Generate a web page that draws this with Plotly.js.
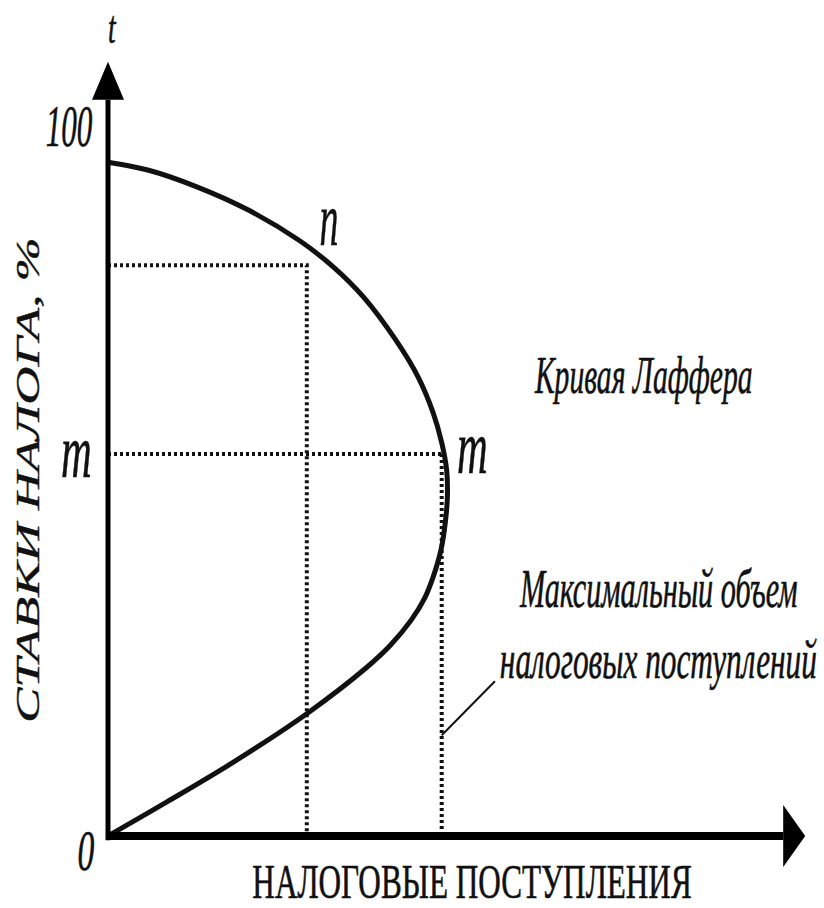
<!DOCTYPE html>
<html>
<head>
<meta charset="utf-8">
<script src="https://cdn.plot.ly/plotly-3.0.1.min.js"></script>
<style>
  html, body { margin: 0; padding: 0; background: #fff; }
  #chart { width: 824px; height: 908px; }
</style>
</head>
<body>
<div id="chart"></div>
<script>
// Laffer curve: tax revenue (x) against tax rate t, % (y)

// curve, from origin round the bulge back to the rate axis
const REVENUE = [0, 8.3, 17.5, 28.1, 36.5, 39.8, 42.7, 44.6, 45.8, 46.9, 47.5, 47.8,
                 47.7, 47.0, 45.8, 43.7, 40.5, 36.0, 31.8, 26.9, 19.7, 12.6, 5.6, 0];
const RATE    = [0, 4.8, 10.3, 17.3, 23.8, 26.9, 30.4, 33.5, 36.5, 40.3, 44.1, 47.7,
                 51.5, 55.4, 59.6, 64.6, 69.9, 75.9, 80.1, 83.9, 88.2, 91.4, 93.8, 94.9];

// point m (maximum revenue) and point n
const M_REV = 47.0, M_RATE = 53.8;
const N_REV = 28.0, N_RATE = 80.4;

// leader from the m drop line to the caption
const LEADER_X = [47.0, 54.5];
const LEADER_Y = [14.2, 21.8];

// axis ends (where the arrowheads sit)
const X_END = 95.1;
const Y_END = 103.7;

// page geometry: origin pixel and scale
const PX = 7.1, OX = 108, OY = 836, W = 824, H = 908;

const FONT = '"Liberation Serif", "Times New Roman", serif';
const squeeze = [];

function label(text, x, y, size, sq, extra) {
  squeeze.push(sq);
  return Object.assign({
    text: text, x: x, y: y, xref: 'x', yref: 'y',
    showarrow: false, xanchor: 'center', yanchor: 'middle',
    font: {family: FONT, size: size, color: '#111', style: 'italic'}
  }, extra || {});
}

const solid = (x, y, w) => ({
  x: x, y: y, mode: 'lines', type: 'scatter', hoverinfo: 'skip', showlegend: false,
  line: {color: '#111', width: w}
});
const dotted = (x, y) => ({
  x: x, y: y, mode: 'lines', type: 'scatter', hoverinfo: 'skip', showlegend: false,
  line: {color: '#111', width: 4, dash: '3px,3px'}
});

const traces = [
  dotted([0, N_REV, N_REV], [N_RATE, N_RATE, 0]),
  dotted([0, M_REV], [M_RATE, M_RATE]),
  dotted([M_REV, M_REV], [M_RATE, 0]),
  solid(LEADER_X, LEADER_Y, 2),
  Object.assign(solid(REVENUE, RATE, 5), {line: {color: '#111', width: 5, shape: 'spline', smoothing: 1}})
];

const annotations = [
  label('t', 0.6, 113.9, 46, 0.6),
  label('100', -5.5, 100, 60, 0.52),
  label('0', -3.1, -2.1, 56, 0.6),
  label('m', -4.5, M_RATE + 0.4, 76, 0.56),
  label('m', 51.3, M_RATE + 1.0, 76, 0.56),
  label('n', 31.1, 86.9, 76, 0.5),
  label('Кривая Лаффера', 75.4, 64.9, 52, 0.57),
  label('Максимальный объем', 77.6, 34.8, 54, 0.56),
  label('налоговых поступлений', 77.6, 24.8, 54, 0.58),
  label('НАЛОГОВЫЕ ПОСТУПЛЕНИЯ', 51.3, -6.4, 48, 0.65,
        {font: {family: FONT, size: 48, color: '#111'}}),
  label('СТАВКИ НАЛОГА, %', -11.3, 50.1, 53, 0.63, {textangle: -90})
];

const shapes = [
  // rate axis and revenue axis
  {type: 'line', x0: 0, x1: 0, y0: -0.6, y1: Y_END, line: {color: '#000', width: 5}},
  {type: 'line', x0: 0, x1: X_END, y0: 0, y1: 0, line: {color: '#000', width: 8}},
  // arrowheads, sized in pixels
  {type: 'path', xsizemode: 'pixel', ysizemode: 'pixel', xanchor: 0, yanchor: Y_END,
   path: 'M-16,0 L16,0 L0,38 Z', fillcolor: '#000', line: {width: 0}},
  {type: 'path', xsizemode: 'pixel', ysizemode: 'pixel', xanchor: X_END, yanchor: 0,
   path: 'M0,-31 L0,31 L22,0 Z', fillcolor: '#000', line: {width: 0}}
];

const hidden = {showgrid: false, zeroline: false, showticklabels: false, showline: false, ticks: '', fixedrange: true};

const layout = {
  width: W, height: H,
  margin: {l: 0, r: 0, t: 0, b: 0},
  paper_bgcolor: '#fff', plot_bgcolor: '#fff',
  showlegend: false,
  xaxis: Object.assign({range: [-OX / PX, (W - OX) / PX]}, hidden),
  yaxis: Object.assign({range: [(OY - H) / PX, OY / PX]}, hidden),
  shapes: shapes,
  annotations: annotations
};

Plotly.newPlot('chart', traces, layout, {staticPlot: true}).then(gd => {
  // the lettering in the picture is narrow and dark: squeeze each label about its centre
  gd.querySelectorAll('.annotation').forEach(g => {
    const i = +g.getAttribute('data-index');
    const t = g.querySelector('.annotation-text');
    if (!t || squeeze[i] == null) return;
    const rotated = annotations[i].textangle;
    t.style.transformBox = 'fill-box';
    t.style.transformOrigin = 'center';
    t.style.transform = rotated ? `scaleY(${squeeze[i]})` : `scaleX(${squeeze[i]})`;
    t.style.stroke = '#111';
    t.style.strokeWidth = '0.6px';
  });
});
</script>
</body>
</html>
